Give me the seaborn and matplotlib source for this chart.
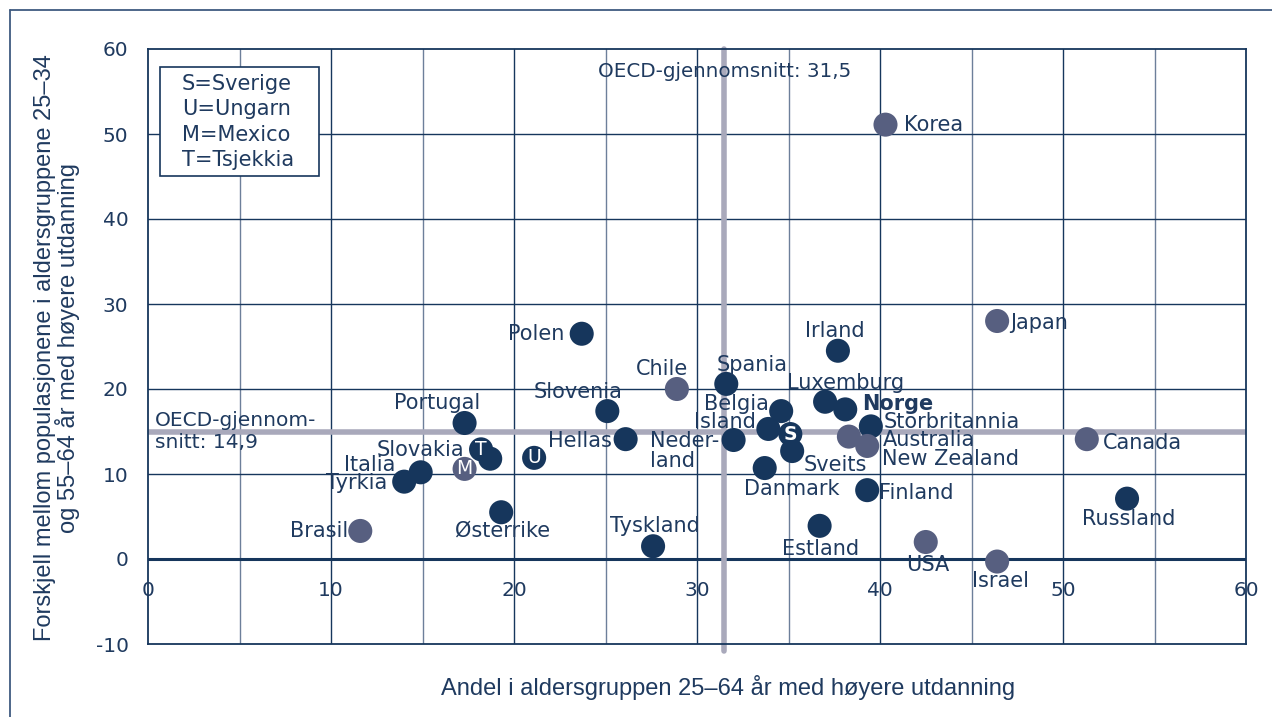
import matplotlib
matplotlib.use("Agg")
import matplotlib.pyplot as plt
import matplotlib.patches as mpatches
import seaborn as sns
import pandas as pd

# ---- data ----
countries = ["Korea", "Japan", "Polen", "Irland", "Chile", "Spania", "Slovenia", "Portugal",
             "Belgia", "Luxemburg", "Norge", "Storbritannia", "Australia", "New Zealand",
             "Island", "Sverige", "Sveits", "Nederland", "Hellas", "Danmark", "Finland",
             "Estland", "Tyskland", "USA", "Israel", "Canada", "Russland", "Tsjekkia",
             "Slovakia", "Ungarn", "Mexico", "Italia", "Tyrkia", "Østerrike", "Brasil"]
share_25_64 = [40.3, 46.4, 23.7, 37.7, 28.9, 31.6, 25.1, 17.3,
               34.6, 37.0, 38.1, 39.5, 38.3, 39.3,
               33.9, 35.1, 35.2, 32.0, 26.1, 33.7, 39.3,
               36.7, 27.6, 42.5, 46.4, 51.3, 53.5, 18.2,
               18.7, 21.1, 17.3, 14.9, 14.0, 19.3, 11.6]
gap_25_34_vs_55_64 = [51.1, 28.0, 26.5, 24.5, 20.0, 20.6, 17.4, 16.0,
                      17.4, 18.5, 17.6, 15.6, 14.4, 13.3,
                      15.3, 14.7, 12.7, 14.0, 14.1, 10.7, 8.1,
                      3.9, 1.5, 2.0, -0.3, 14.1, 7.1, 12.9,
                      11.8, 11.9, 10.6, 10.2, 9.1, 5.5, 3.3]
region = ["Utenfor Europa", "Utenfor Europa", "Europa", "Europa", "Utenfor Europa", "Europa",
          "Europa", "Europa", "Europa", "Europa", "Europa", "Europa", "Utenfor Europa",
          "Utenfor Europa", "Europa", "Europa", "Europa", "Europa", "Europa", "Europa",
          "Europa", "Europa", "Europa", "Utenfor Europa", "Utenfor Europa", "Utenfor Europa",
          "Europa", "Europa", "Europa", "Europa", "Utenfor Europa", "Europa", "Europa",
          "Europa", "Utenfor Europa"]
point_labels = {"Korea": "Korea", "Japan": "Japan", "Polen": "Polen", "Irland": "Irland",
                "Chile": "Chile", "Spania": "Spania", "Slovenia": "Slovenia",
                "Portugal": "Portugal", "Belgia": "Belgia", "Luxemburg": "Luxemburg",
                "Norge": "Norge", "Storbritannia": "Storbritannia", "Australia": "Australia",
                "New Zealand": "New Zealand", "Island": "Island", "Sveits": "Sveits",
                "Nederland": "Neder-\nland", "Hellas": "Hellas", "Danmark": "Danmark",
                "Finland": "Finland", "Estland": "Estland", "Tyskland": "Tyskland",
                "USA": "USA", "Israel": "Israel", "Canada": "Canada", "Russland": "Russland",
                "Slovakia": "Slovakia", "Italia": "Italia", "Tyrkia": "Tyrkia",
                "Østerrike": "Østerrike", "Brasil": "Brasil"}
letter_marks = {"Sverige": "S", "Ungarn": "U", "Mexico": "M", "Tsjekkia": "T"}
legend_lines = ["S=Sverige", "U=Ungarn", "M=Mexico", "T=Tsjekkia"]
oecd_x = 31.5
oecd_y = 14.9
oecd_x_text = "OECD-gjennomsnitt: 31,5"
oecd_y_text = "OECD-gjennom-\nsnitt: 14,9"
x_ticks = [0, 10, 20, 30, 40, 50, 60]
y_ticks = [-10, 0, 10, 20, 30, 40, 50, 60]
xlabel = "Andel i aldersgruppen 25–64 år med høyere utdanning"
ylabel = "Forskjell mellom populasjonene i aldersgruppene 25–34\nog 55–64 år med høyere utdanning"

df = pd.DataFrame({"land": countries, "x": share_25_64, "y": gap_25_34_vs_55_64, "gruppe": region})

# ---- layout / style ----
NAVY = "#16365c"
SLATE = "#575f80"
TXT = "#1f3a5f"
OECD_C = "#a9a9bb"
MINOR_GRID = "#6d7f9a"
W, H = 1272, 717
LFS = 15

# label offsets in pixels (dx, dy, ha)
label_pos = {
    "Korea": (19, 0, "left"), "Japan": (13, -2, "left"), "Polen": (-17, 0, "right"),
    "Irland": (-3, 20, "center"), "Chile": (-15, 20, "center"), "Spania": (26, 19, "center"),
    "Slovenia": (-29, 19, "center"), "Portugal": (-27, 20, "center"),
    "Belgia": (-12, 7, "right"), "Luxemburg": (20, 19, "center"),
    "Norge": (17, 5, "left"), "Storbritannia": (13, 4, "left"),
    "Australia": (34, -3, "left"), "New Zealand": (15, -13, "left"),
    "Island": (-12, 7, "right"), "Sveits": (11, -14, "left"),
    "Nederland": (-14, -11, "right"), "Hellas": (-14, -2, "right"),
    "Danmark": (27, -21, "center"), "Finland": (12, -3, "left"),
    "Estland": (1, -23, "center"), "Tyskland": (2, 20, "center"),
    "USA": (2, -23, "center"), "Israel": (3, -19, "center"),
    "Canada": (16, -4, "left"), "Russland": (2, -20, "center"),
    "Slovakia": (-26, 9, "right"), "Italia": (-25, 7, "right"),
    "Tyrkia": (-17, -1, "right"), "Østerrike": (1, -18, "center"),
    "Brasil": (-12, 0, "right"),
}

sns.set_theme(style="white")
plt.rcParams["font.family"] = ["DejaVu Sans"]

fig = plt.figure(figsize=(W / 100, H / 100), dpi=100)
ax = fig.add_axes([148 / W, 73 / H, (1246 - 148) / W, (644 - 49) / H])

# outer frame (top and left)
fig.add_artist(plt.Line2D([10 / W, 1], [1 - 10 / H, 1 - 10 / H], color="#3f5a80", lw=1.3))
fig.add_artist(plt.Line2D([10 / W, 10 / W], [0, 1 - 10 / H], color="#3f5a80", lw=1.3))

ax.set_xlim(0, 60)
ax.set_ylim(-10, 60)

# grid
for gx in range(5, 60, 5):
    ax.axvline(gx, color=NAVY if gx % 10 == 0 else MINOR_GRID, lw=1.0, zorder=0.5)
for gy in range(0, 60, 10):
    ax.axhline(gy, color=NAVY, lw=1.0, zorder=0.5)
ax.axhline(0, color=NAVY, lw=2.2, zorder=0.6)

# OECD averages
ax.axvline(oecd_x, color=OECD_C, lw=4, zorder=1, ymin=-0.012, clip_on=False)
ax.axhline(oecd_y, color=OECD_C, lw=4, zorder=1)

sns.scatterplot(data=df, x="x", y="y", hue="gruppe",
                palette={"Europa": NAVY, "Utenfor Europa": SLATE},
                s=300, edgecolor="none", legend=False, ax=ax, zorder=3)

for name, xv, yv in zip(countries, share_25_64, gap_25_34_vs_55_64):
    if name in letter_marks:
        ax.text(xv, yv, letter_marks[name], color="white", fontsize=13.5,
                ha="center", va="center", zorder=4,
                fontweight="bold" if name == "Sverige" else "normal")
    if name in point_labels:
        dx, dy, ha = label_pos[name]
        ax.annotate(point_labels[name], (xv, yv), xytext=(dx, dy), textcoords="offset pixels",
                    ha=ha, va="center", fontsize=LFS, color=TXT, zorder=5,
                    fontweight="bold" if name == "Norge" else "normal",
                    multialignment="left", linespacing=1.0)

ax.text(oecd_x, 57.3, oecd_x_text, ha="center", va="center", fontsize=14.3, color=TXT, zorder=5)
ax.text(0.38, 15.0, oecd_y_text, ha="left", va="center", fontsize=14.5, color=TXT,
        zorder=5, linespacing=1.15)

# legend box
ax.add_patch(mpatches.Rectangle(((160 - 148) / 1098, (644 - 176) / 595), 159 / 1098, 109 / 595,
                                transform=ax.transAxes, fc="white", ec=NAVY, lw=1.2, zorder=6))
for i, line in enumerate(legend_lines):
    ax.text((182 - 148) / 1098, (644 - (84 + 25.3 * i)) / 595, line, transform=ax.transAxes,
            ha="left", va="center", fontsize=15, color=TXT, zorder=7)

# x tick labels sit just below the zero line
for xt in x_ticks:
    ax.annotate(str(xt), (xt, 0), xytext=(0, -31), textcoords="offset pixels",
                ha="center", va="center", fontsize=14.5, color=TXT, zorder=5)

ax.set_xticks(list(range(0, 61, 5)))
ax.set_yticks(y_ticks)
ax.set_yticklabels([str(v) for v in y_ticks])
ax.tick_params(axis="x", labelbottom=False, colors=MINOR_GRID, length=4, width=1)
ax.tick_params(axis="y", labelsize=14.5, labelcolor=TXT, colors=MINOR_GRID, length=5, width=1, pad=9)
ax.set_xlabel("")
ax.set_ylabel("")
fig.text(728 / W, 1 - 687 / H, xlabel, ha="center", va="center", fontsize=17, color=TXT,
         family="Liberation Sans")
fig.text(57 / W, 1 - 348 / H, ylabel, ha="center", va="center", rotation=90, fontsize=17,
         color=TXT, family="Liberation Sans", linespacing=0.95, multialignment="center")
for sp in ax.spines.values():
    sp.set_visible(True)
    sp.set_color(NAVY)
    sp.set_linewidth(1.3)

fig.savefig("out.png", dpi=100, facecolor="white")
